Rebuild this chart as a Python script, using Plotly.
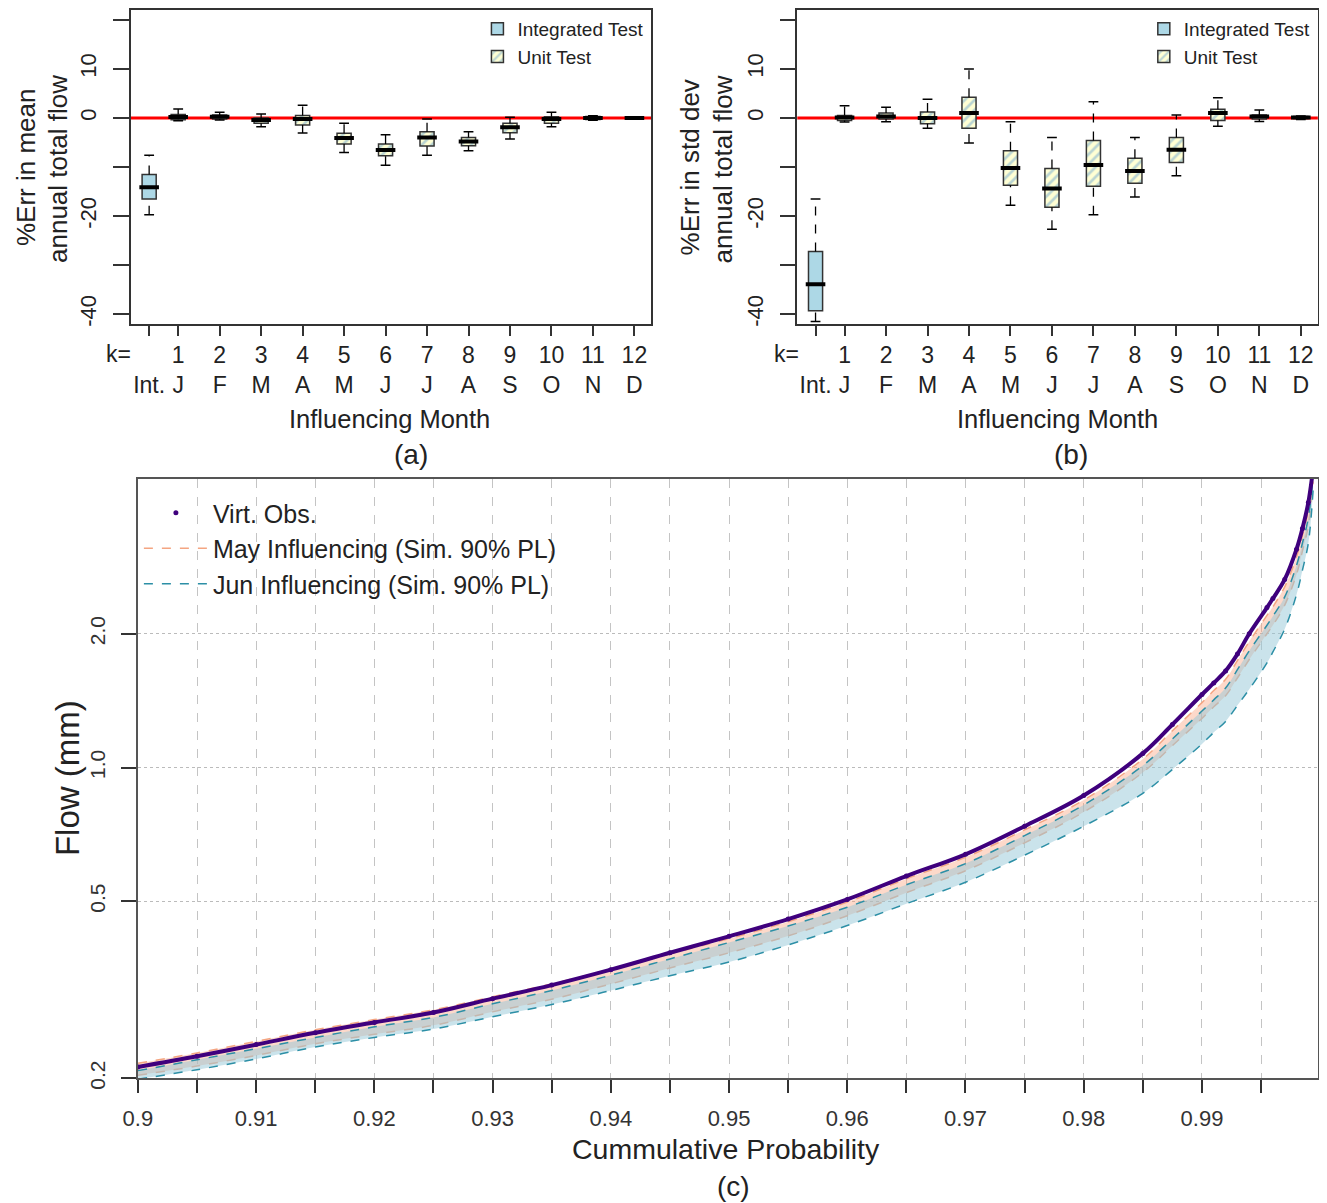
import plotly.graph_objects as go

# the photographed page lands slightly shrunk and shifted; map target pixels onto the figure
FW, FH = 1311, 1203
SX, OX = 0.9887, 22
SY, OY = 0.989, 9
FONT = "Liberation Sans, Arial, sans-serif"
INK = "#333333"

# ---- panels (a) and (b): boxplots per influencing month ----
box_pos = [0.3, 1, 2, 3, 4, 5, 6, 7, 8, 9, 10, 11, 12]
k_labels = ["", "1", "2", "3", "4", "5", "6", "7", "8", "9", "10", "11", "12"]
month_labels = ["Int.", "J", "F", "M", "A", "M", "J", "J", "A", "S", "O", "N", "D"]

# (a) %Err in mean annual total flow  (index 0 = integrated test)
a_lo = [-19.7, -0.55, -0.41, -1.77, -3.07, -7.03, -9.62, -7.58, -6.69, -4.30, -1.77, -0.45, -0.15]
a_q1 = [-16.5, -0.34, -0.20, -1.09, -1.43, -5.32, -7.71, -5.73, -5.67, -3.00, -1.09, -0.30, -0.10]
a_med = [-14.1, 0.20, 0.27, -0.41, -0.20, -4.10, -6.55, -3.96, -4.78, -1.91, -0.20, 0.00, 0.00]
a_q3 = [-11.5, 0.68, 0.61, 0.00, 0.48, -3.14, -5.32, -2.80, -3.96, -1.09, 0.27, 0.30, 0.10]
a_hi = [-7.58, 1.84, 1.16, 0.82, 2.59, -1.09, -3.41, -0.20, -2.80, 0.14, 1.16, 0.45, 0.15]

# (b) %Err in std dev annual total flow
b_lo = [-41.5, -0.8, -0.75, -2.1, -5.1, -17.8, -22.7, -19.7, -16.1, -11.8, -1.7, -0.7, -0.3]
b_q1 = [-39.3, -0.5, -0.2, -1.2, -2.1, -13.7, -18.2, -13.9, -13.3, -9.1, -0.5, -0.2, -0.1]
b_med = [-33.9, 0.1, 0.3, 0.0, 1.0, -10.2, -14.4, -9.6, -10.8, -6.5, 1.0, 0.3, 0.1]
b_q3 = [-27.2, 0.5, 1.0, 1.2, 4.2, -6.7, -10.3, -4.6, -8.2, -4.0, 1.8, 0.6, 0.3]
b_hi = [-16.5, 2.5, 2.2, 3.8, 10.0, -0.75, -4.0, 3.3, -4.0, 0.6, 4.1, 1.6, 0.4]

# ---- panel (c): flow duration curve ----
prob = [0.900, 0.905, 0.910, 0.915, 0.920, 0.925, 0.930, 0.935, 0.940, 0.945,
        0.950, 0.955, 0.960, 0.965, 0.970, 0.975, 0.980, 0.985, 0.9875,
        0.990, 0.991, 0.992, 0.993, 0.994, 0.9955, 0.996, 0.997, 0.998, 0.9985,
        0.999, 0.9994]
obs = [0.212, 0.224, 0.238, 0.253, 0.267, 0.281, 0.302, 0.324, 0.351, 0.383,
       0.417, 0.456, 0.505, 0.570, 0.638, 0.738, 0.865, 1.076, 1.25,
       1.46, 1.55, 1.65, 1.80, 2.00, 2.29, 2.40, 2.65, 3.10, 3.45,
       3.95, 4.70]
may_hi = [0.216, 0.228, 0.242, 0.257, 0.271, 0.285, 0.305, 0.326, 0.352, 0.381,
          0.412, 0.450, 0.498, 0.562, 0.628, 0.724, 0.845, 1.045, 1.21,
          1.40, 1.49, 1.58, 1.74, 1.92, 2.20, 2.30, 2.55, 2.98, 3.33,
          3.80, 4.60]
may_lo = [0.203, 0.213, 0.225, 0.239, 0.251, 0.263, 0.282, 0.301, 0.326, 0.354,
          0.383, 0.418, 0.464, 0.523, 0.586, 0.677, 0.794, 0.975, 1.12,
          1.29, 1.37, 1.45, 1.59, 1.75, 2.00, 2.09, 2.32, 2.72, 3.07,
          3.50, 4.40]
jun_hi = [0.208, 0.220, 0.233, 0.247, 0.261, 0.274, 0.294, 0.315, 0.341, 0.371,
          0.404, 0.440, 0.485, 0.545, 0.608, 0.703, 0.824, 1.010, 1.16,
          1.34, 1.42, 1.51, 1.66, 1.83, 2.09, 2.19, 2.42, 2.85, 3.20,
          3.65, 4.50]
jun_lo = [0.199, 0.209, 0.221, 0.235, 0.247, 0.258, 0.275, 0.293, 0.315, 0.340,
          0.365, 0.399, 0.441, 0.494, 0.552, 0.635, 0.738, 0.875, 0.99,
          1.13, 1.20, 1.27, 1.38, 1.50, 1.72, 1.82, 2.05, 2.45, 2.78,
          3.20, 4.20]

x_ticks_c = [0.9, 0.905, 0.91, 0.915, 0.92, 0.925, 0.93, 0.935, 0.94, 0.945,
             0.95, 0.955, 0.96, 0.965, 0.97, 0.975, 0.98, 0.985, 0.99, 0.995]
x_text_c = ["0.9", "", "0.91", "", "0.92", "", "0.93", "", "0.94", "",
            "0.95", "", "0.96", "", "0.97", "", "0.98", "", "0.99", ""]
y_ticks_c = [0.2, 0.5, 1.0, 2.0]
y_text_c = ["0.2", "0.5", "1.0", "2.0"]


def px_x(v):
    return min(max((v - OX) / SX / FW, 0), 1)


def px_y(v):
    return min(max(1 - (v - OY) / SY / FH, 0), 1)


fig = go.Figure()


def add_box_panel(xa, ya, leg, lo, q1, med, q3, hi):
    fig.add_trace(go.Bar(
        x=box_pos[:1], y=[q3[0] - q1[0]], base=q1[:1], width=0.34,
        marker=dict(color="#ADD8E6", line=dict(color=INK, width=1.5)),
        name="Integrated Test", xaxis=xa, yaxis=ya, legend=leg, legendrank=1,
    ))
    fig.add_trace(go.Bar(
        x=box_pos[1:], y=[b - a for a, b in zip(q1[1:], q3[1:])], base=q1[1:],
        width=0.34,
        marker=dict(
            color="#FFFFD4",
            pattern=dict(shape="/", bgcolor="#FFFFD4", fgcolor="#74A9CF",
                         size=7, solidity=0.38),
            line=dict(color=INK, width=1.5),
        ),
        name="Unit Test", xaxis=xa, yaxis=ya, legend=leg, legendrank=2,
    ))
    wx, wy = [], []
    for p, l, a, b, h in zip(box_pos, lo, q1, q3, hi):
        wx += [p, p, None, p, p, None]
        wy += [b, h, None, l, a, None]
    fig.add_trace(go.Scatter(
        x=wx, y=wy, mode="lines", line=dict(color="black", width=1.3, dash="dash"),
        showlegend=False, hoverinfo="skip", xaxis=xa, yaxis=ya,
    ))
    fig.add_trace(go.Scatter(
        x=box_pos + box_pos, y=lo + hi, mode="markers",
        marker=dict(symbol="line-ew", size=7, line=dict(color="black", width=1.5)),
        showlegend=False, hoverinfo="skip", xaxis=xa, yaxis=ya,
    ))
    fig.add_trace(go.Scatter(
        x=box_pos, y=med, mode="markers",
        marker=dict(symbol="line-ew", size=14, line=dict(color="black", width=4)),
        showlegend=False, xaxis=xa, yaxis=ya,
    ))


add_box_panel("x", "y", "legend", a_lo, a_q1, a_med, a_q3, a_hi)
add_box_panel("x2", "y2", "legend2", b_lo, b_q1, b_med, b_q3, b_hi)

# panel (c) bands
band = dict(xaxis="x3", yaxis="y3", mode="lines", hoverinfo="skip", line_shape="spline")
may_line = dict(color="#F4A582", width=1.5, dash="dash")
jun_line = dict(color="#2C8FA6", width=1.5, dash="dash")
fig.add_trace(go.Scatter(x=prob, y=may_lo, line=may_line, name="May Influencing (Sim. 90% PL)",
                         legend="legend3", legendrank=2, **band))
fig.add_trace(go.Scatter(x=prob, y=may_hi, line=may_line, fill="tonexty",
                         fillcolor="rgba(250,160,122,0.40)", showlegend=False, **band))
fig.add_trace(go.Scatter(x=prob, y=jun_lo, line=jun_line, name="Jun Influencing (Sim. 90% PL)",
                         legend="legend3", legendrank=3, **band))
fig.add_trace(go.Scatter(x=prob, y=jun_hi, line=jun_line, fill="tonexty",
                         fillcolor="rgba(150,200,215,0.50)", showlegend=False, **band))
fig.add_trace(go.Scatter(x=prob, y=obs, mode="lines", line=dict(color="#3F007D", width=4),
                         line_shape="spline", showlegend=False, xaxis="x3", yaxis="y3"))
fig.add_trace(go.Scatter(x=prob, y=obs, mode="markers", marker=dict(color="#3F007D", size=5),
                         name="Virt. Obs.", legend="legend3", legendrank=1,
                         xaxis="x3", yaxis="y3"))

box_x = dict(
    range=[-0.14, 12.41], tickvals=box_pos,
    ticktext=[f"{k if k else ' '}<br>{m}" for k, m in zip(k_labels, month_labels)],
    ticks="outside", ticklen=10, tickwidth=1.5, tickcolor=INK,
    showline=True, mirror=True, linecolor=INK, linewidth=1.5,
    showgrid=False, zeroline=False, tickfont=dict(size=23, color="#222"),
)
box_y = dict(
    range=[-42, 22], tickvals=[-40, -30, -20, -10, 0, 10, 20],
    ticktext=["-40", "", "-20", "", "0", "10", ""], tickangle=-90,
    ticks="outside", ticklen=16, tickwidth=1.5, tickcolor=INK, ticklabelstandoff=8,
    showline=True, mirror=True, linecolor=INK, linewidth=1.5,
    showgrid=False, zeroline=False, tickfont=dict(size=22, color="#222"),
    domain=[px_y(323), px_y(9)],
)

fig.update_layout(
    width=FW, height=FH, margin=dict(l=0, r=0, t=0, b=0),
    paper_bgcolor="white", plot_bgcolor="white",
    font=dict(family=FONT, color="#222"),
    barmode="overlay",
    xaxis=dict(domain=[px_x(130), px_x(651)], anchor="y", **box_x),
    yaxis=dict(anchor="x", **box_y),
    xaxis2=dict(domain=[px_x(797), px_x(1318)], anchor="y2", **box_x),
    yaxis2=dict(anchor="x2", **box_y),
    xaxis3=dict(
        domain=[px_x(137), px_x(1318)], anchor="y3", range=[0.9, 0.9998],
        tickvals=x_ticks_c, ticktext=x_text_c,
        ticks="outside", ticklen=13, tickwidth=1.5, tickcolor=INK, ticklabelstandoff=7,
        showline=True, mirror=True, linecolor="#555", linewidth=1.5,
        showgrid=True, gridcolor="#C4C4C4", griddash="dash", gridwidth=1,
        zeroline=False, tickfont=dict(size=22, color="#333"),
    ),
    yaxis3=dict(
        domain=[px_y(1077), px_y(478)], anchor="x3", type="log",
        range=[-0.699, 0.649], tickvals=y_ticks_c, ticktext=y_text_c, tickangle=-90,
        ticks="outside", ticklen=15, tickwidth=1.5, tickcolor=INK, ticklabelstandoff=8,
        showline=True, mirror=True, linecolor="#555", linewidth=1.5,
        showgrid=True, gridcolor="#BBBBBB", griddash="dot", gridwidth=1.2,
        zeroline=False, tickfont=dict(size=21, color="#333"),
    ),
    legend=dict(x=px_x(649), y=1, xanchor="right", yanchor="top", traceorder="normal",
                font=dict(size=19), bgcolor="rgba(0,0,0,0)", tracegroupgap=0),
    legend2=dict(x=px_x(1316), y=1, xanchor="right", yanchor="top", traceorder="normal",
                 font=dict(size=19), bgcolor="rgba(0,0,0,0)", tracegroupgap=0),
    legend3=dict(x=px_x(138), y=px_y(489), xanchor="left", yanchor="top", traceorder="normal",
                 font=dict(size=25), bgcolor="rgba(0,0,0,0)", itemwidth=64),
    showlegend=True,
)

for xr, yr in (("x", "y"), ("x2", "y2")):
    fig.add_shape(type="line", xref=f"{xr} domain", yref=yr, x0=0, x1=1, y0=0, y1=0,
                  line=dict(color="red", width=3), layer="below")

annots = [
    ("%Err in mean", 25, 166, 26, -90),
    ("annual total flow", 57, 168, 26, -90),
    ("%Err in std dev", 690, 166, 26, -90),
    ("annual total flow", 723, 168, 26, -90),
    ("k=", 118, 353, 23, 0),
    ("k=", 786, 353, 23, 0),
    ("Influencing Month", 389, 418, 25.5, 0),
    ("Influencing Month", 1057, 418, 25.5, 0),
    ("(a)", 410, 453, 28, 0),
    ("(b)", 1071, 453, 28, 0),
    ("Flow (mm)", 66, 777, 33, -90),
    ("Cummulative Probability", 726, 1148, 28.5, 0),
    ("(c)", 733, 1185, 28, 0),
]
for text, x, y, size, ang in annots:
    fig.add_annotation(text=text, x=px_x(x), y=px_y(y), xref="paper", yref="paper",
                       showarrow=False, textangle=ang, font=dict(size=size, color="#222"),
                       xanchor="center", yanchor="middle")

fig.write_html("out.html")
